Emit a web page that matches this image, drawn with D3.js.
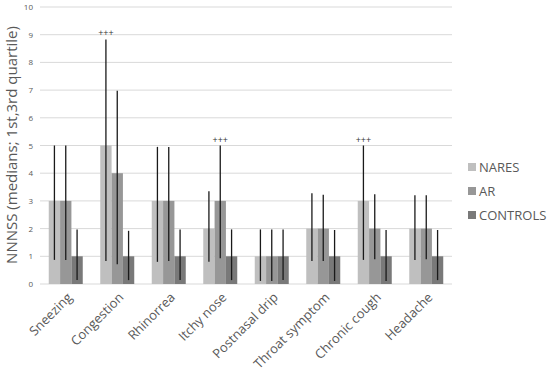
<!DOCTYPE html>
<html><head><meta charset="utf-8">
<script src="https://cdn.jsdelivr.net/npm/d3@7/dist/d3.min.js"></script>
<style>body{margin:0;background:#fff}svg{display:block}</style>
</head><body>
<svg id="c" width="550" height="380"></svg>
<script>
const categories = ["Sneezing","Congestion","Rhinorrea","Itchy nose","Postnasal drip","Throat symptom","Chronic cough","Headache"];
const seriesNames = ["NARES","AR","CONTROLS"];
const naresMedian = [3,5,3,2,1,2,3,2];
const naresQ1     = [0.87,0.83,0.8,0.8,0.11,0.83,0.87,0.87];
const naresQ3     = [5,8.83,4.95,3.35,1.97,3.28,5,3.2];
const arMedian    = [3,4,3,3,1,2,2,2];
const arQ1        = [0.87,0.71,0.83,0.93,0.11,0.83,0.89,0.89];
const arQ3        = [5,6.98,4.95,5,1.97,3.22,3.24,3.2];
const ctrlMedian  = [1,1,1,1,1,1,1,1];
const ctrlQ1      = [0.14,0.14,0.14,0.14,0.14,0.11,0.11,0.14];
const ctrlQ3      = [1.97,1.92,1.97,1.97,1.97,1.95,1.95,1.95];
const yTicks = [0,1,2,3,4,5,6,7,8,9,10];
const significance = [{cat:"Congestion", series:"NARES", label:"+++"},{cat:"Itchy nose", series:"AR", label:"+++"},{cat:"Chronic cough", series:"NARES", label:"+++"}];
const colors = ["#bfbfbf","#979797","#797979"];

const med = [naresMedian, arMedian, ctrlMedian];
const q1 = [naresQ1, arQ1, ctrlQ1];
const q3 = [naresQ3, arQ3, ctrlQ3];

const svg = d3.select("#c");
const x0 = d3.scaleBand().domain(categories).range([40,452]).paddingInner(0.34).paddingOuter(0.17);
const x1 = d3.scaleBand().domain(seriesNames).range([0,x0.bandwidth()]);
const y = d3.scaleLinear().domain([0,10]).range([284,7]);
const color = d3.scaleOrdinal().domain(seriesNames).range(colors);

// grid
svg.append("g").selectAll("line").data(yTicks).join("line")
  .attr("x1",40).attr("x2",452).attr("y1",d=>y(d)).attr("y2",d=>y(d))
  .attr("stroke","#d9d9d9").attr("stroke-width",1);

// y axis labels
const yAxis = d3.axisLeft(y).tickValues(yTicks).tickSize(0).tickPadding(0);
const ya = svg.append("g").attr("transform","translate(33,0)").call(yAxis);
ya.select(".domain").remove();
ya.selectAll("text").attr("fill","#595959").attr("font-size","8px").attr("font-family","Open Sans, sans-serif");

// bars
const rows = [];
categories.forEach((c,i)=>seriesNames.forEach((s,j)=>rows.push({c,s,m:med[j][i],lo:q1[j][i],hi:q3[j][i]})));
svg.append("g").selectAll("rect").data(rows).join("rect")
  .attr("x",d=>x0(d.c)+x1(d.s)).attr("width",x1.bandwidth())
  .attr("y",d=>y(d.m)).attr("height",d=>y(0)-y(d.m))
  .attr("fill",d=>color(d.s));

// error bars
svg.append("g").selectAll("line").data(rows).join("line")
  .attr("x1",d=>x0(d.c)+x1(d.s)+x1.bandwidth()/2).attr("x2",d=>x0(d.c)+x1(d.s)+x1.bandwidth()/2)
  .attr("y1",d=>y(d.lo)).attr("y2",d=>y(d.hi))
  .attr("stroke","#1a1a1a").attr("stroke-width",1.3);

// significance
svg.append("g").selectAll("text").data(significance).join("text")
  .attr("x",d=>x0(d.cat)+x1(d.series)+x1.bandwidth()/2)
  .attr("y",d=>{const r=rows.find(r=>r.c===d.cat&&r.s===d.series);return y(r.hi)-3;})
  .attr("text-anchor","middle").attr("font-size","9px").attr("font-family","Open Sans, sans-serif")
  .attr("fill","#333").text(d=>d.label);

// x labels
svg.append("g").selectAll("text").data(categories).join("text")
  .attr("transform",d=>`translate(${x0(d)+x0.bandwidth()/2+4},295) rotate(-45)`)
  .attr("text-anchor","end").attr("dy","0.35em")
  .attr("font-size","13px").attr("font-family","Open Sans, sans-serif").attr("fill","#595959")
  .text(d=>d);

// y title
svg.append("text").attr("transform","translate(12,145) rotate(-90)")
  .attr("text-anchor","middle").attr("dy","0.35em")
  .attr("font-size","15px").attr("font-family","Open Sans, sans-serif").attr("fill","#595959")
  .text("NNNSS (medians; 1st,3rd quartile)");

// legend
const lg = svg.append("g").selectAll("g").data(seriesNames).join("g")
  .attr("transform",(d,i)=>`translate(468,${167+i*24})`);
lg.append("rect").attr("x",0).attr("y",-4).attr("width",8).attr("height",8).attr("fill",d=>color(d));
lg.append("text").attr("x",11).attr("dy","0.35em").attr("font-size","13px")
  .attr("font-family","Open Sans, sans-serif").attr("fill","#595959").text(d=>d);
</script>
</body></html>
